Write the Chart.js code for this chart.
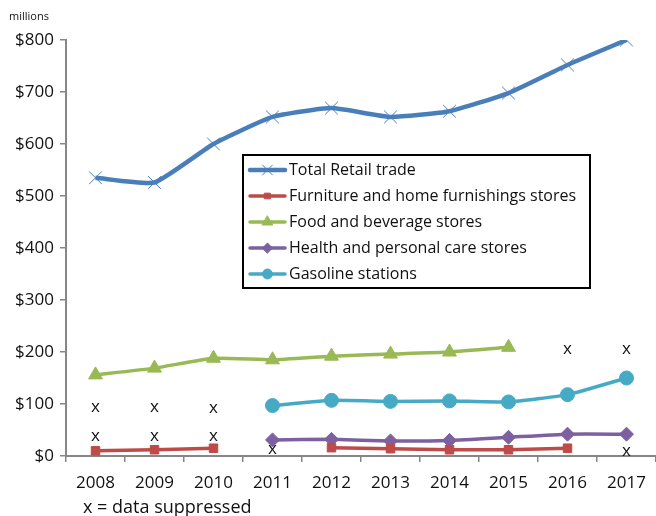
<!DOCTYPE html>
<html>
<head>
<meta charset="utf-8">
<script src="https://cdn.jsdelivr.net/npm/chart.js@4/dist/chart.umd.min.js"></script>
<style>
  html, body { margin: 0; padding: 0; background: #fff; }
  #wrap { width: 656px; height: 516px; position: relative; }
</style>
</head>
<body>
<div id="wrap"><canvas id="retailChart"></canvas></div>
<script>
// categories
const years = ['2008', '2009', '2010', '2011', '2012', '2013', '2014', '2015', '2016', '2017'];

// series values (millions of dollars), null = suppressed
const totalRetail = [535, 526, 600, 652, 669, 652, 663, 698, 752, 800];
const furniture = [10, 12, 15, null, 16, 14, 12, 12, 15, null];
const foodBeverage = [156, 169, 188, 185, 192, 196, 200, 209, null, null];
const healthCare = [null, null, null, 31, 32, 29, 30, 36, 42, 42];
const gasoline = [null, null, null, 97, 107, 105, 106, 104, 118, 150];

// "x" markers where data is suppressed
const suppressedYears = ['2008', '2008', '2009', '2009', '2010', '2010', '2011', '2016', '2017', '2017'];
const suppressedValues = [92, 36, 92, 36, 90, 36, 11, 204, 204, 8];

// y tick labels
const yTicks = ['$0', '$100', '$200', '$300', '$400', '$500', '$600', '$700', '$800'];

const fontFamily = "'Open Sans', 'Noto Sans', sans-serif";
const axisGrey = '#868686';

function series(label, data, color, style, radius, width) {
    return {
        label: label,
        data: data,
        borderColor: color,
        backgroundColor: color,
        pointBackgroundColor: color,
        pointBorderColor: color,
        pointStyle: style,
        pointRadius: radius,
        pointHoverRadius: radius,
        pointBorderWidth: 1,
        borderWidth: width,
        tension: 0.15,
        spanGaps: false,
        fill: false,
    };
}

const datasets = [
    series('Total Retail trade', totalRetail, '#4A7EBB', 'crossRot', 9, 4.5),
    series('Furniture and home furnishings stores', furniture, '#BE4B48', 'rect', 6, 3.5),
    series('Food and beverage stores', foodBeverage, '#98B954', 'triangle', 8, 3.5),
    series('Health and personal care stores', healthCare, '#7D60A0', 'rectRot', 7, 3.5),
    series('Gasoline stations', gasoline, '#46AAC5', 'circle', 7, 3.5),
];

//Extra text: units label, footnote, suppressed x marks, boxed legend
const extrasPlugin = {
    id: 'extras',
    afterDatasetsDraw(chart) {
        const ctx = chart.ctx;
        const xs = chart.scales.x;
        const ys = chart.scales.y;
        ctx.save();
        ctx.fillStyle = '#111';
        ctx.textBaseline = 'middle';
        ctx.textAlign = 'left';
        ctx.font = "11px " + fontFamily;
        ctx.fillText('millions', 9, 17);
        ctx.font = "18px " + fontFamily;
        ctx.fillText('x = data suppressed', 83, 508);

        ctx.textAlign = 'center';
        ctx.font = "17px " + fontFamily;
        suppressedYears.forEach((yr, i) => {
            ctx.fillText('x', xs.getPixelForValue(yr), ys.getPixelForValue(suppressedValues[i]) - 1);
        });

        // legend box
        const bx = 243, by = 155, bw = 347, bh = 133;
        ctx.fillStyle = '#fff';
        ctx.fillRect(bx, by, bw, bh);
        ctx.lineWidth = 2;
        ctx.strokeStyle = '#000';
        ctx.strokeRect(bx, by, bw, bh);
        ctx.font = "16px " + fontFamily;
        ctx.textAlign = 'left';
        datasets.forEach((ds, i) => {
            const rowY = by + 15 + i * 26;
            ctx.strokeStyle = ds.borderColor;
            ctx.lineWidth = ds.borderWidth;
            ctx.lineCap = 'round';
            ctx.beginPath();
            ctx.moveTo(250, rowY);
            ctx.lineTo(285, rowY);
            ctx.stroke();
            ctx.fillStyle = ds.borderColor;
            ctx.lineWidth = 1;
            Chart.helpers.drawPoint(ctx, {
                pointStyle: ds.pointStyle,
                radius: ds.pointRadius - 2,
                rotation: 0,
                borderWidth: 1,
            }, 267.5, rowY);
            ctx.fillStyle = '#111';
            ctx.fillText(ds.label, 289, rowY);
        });
        ctx.restore();
    }
};

const retailChart = new Chart(document.getElementById('retailChart'), {
    type: 'line',
    data: {
        labels: years,
        datasets: datasets,
    },
    options: {
        responsive: true,
        maintainAspectRatio: false,
        animation: false,
        layout: { autoPadding: false, padding: { top: 40, right: 0, left: 0, bottom: 0 } },
        plugins: {
            legend: { display: false },
            tooltip: { enabled: false },
        },
        scales: {
            x: {
                offset: true,
                grid: {
                    offset: true,
                    drawOnChartArea: false,
                    drawTicks: true,
                    tickLength: 6,
                    color: axisGrey,
                    lineWidth: 1.5,
                },
                border: { color: axisGrey, width: 2 },
                ticks: {
                    color: '#111',
                    font: { family: fontFamily, size: 17 },
                    padding: 11,
                    maxRotation: 0,
                },
                afterFit(scale) {
                    scale.height = 60;
                    scale.paddingLeft = 0;
                    scale.paddingRight = 0;
                },
            },
            y: {
                min: 0,
                max: 800,
                grid: {
                    drawOnChartArea: false,
                    drawTicks: true,
                    tickLength: 6,
                    color: axisGrey,
                    lineWidth: 1.5,
                },
                border: { color: axisGrey, width: 2 },
                ticks: {
                    stepSize: 100,
                    color: '#111',
                    font: { family: fontFamily, size: 17 },
                    padding: 6,
                    callback: (v) => yTicks[v / 100],
                },
                afterFit(scale) { scale.width = 66; },
            },
        },
    },
    plugins: [extrasPlugin],
});
</script>
</body>
</html>
